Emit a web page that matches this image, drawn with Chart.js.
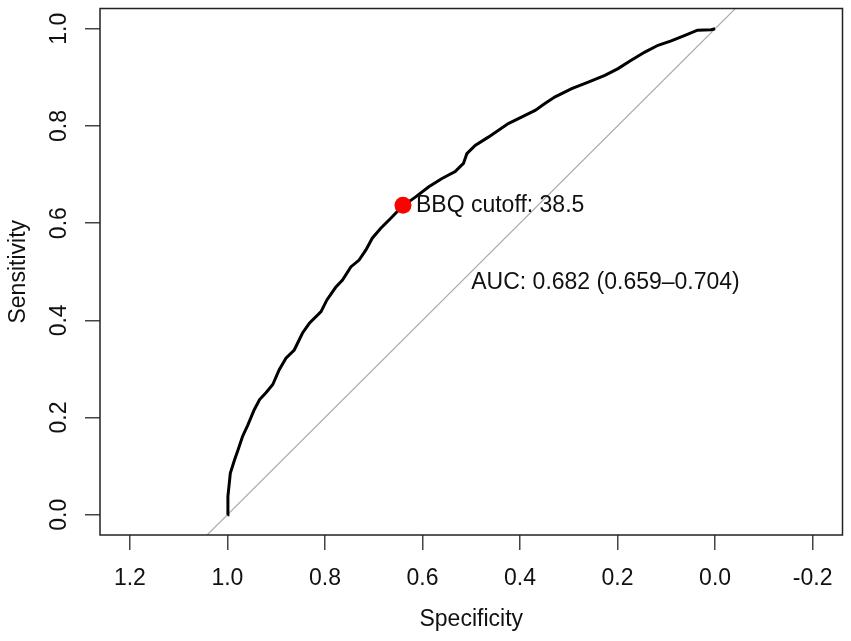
<!DOCTYPE html>
<html>
<head>
<meta charset="utf-8">
<title>ROC curve - BBQ</title>
<script src="https://cdn.jsdelivr.net/npm/chart.js@4.4.1/dist/chart.umd.min.js"></script>
<style>
  html, body { margin: 0; padding: 0; background: #fff; }
  #wrap { width: 851px; height: 641px; }
</style>
</head>
<body>
<div id="wrap"><canvas id="roc"></canvas></div>
<script>
// ROC curve (specificity runs 1 -> 0)
const specificity = [1.000, 0.999, 0.994, 0.985, 0.979, 0.969, 0.958, 0.945, 0.934, 0.921,
                     0.907, 0.894, 0.880, 0.863, 0.846, 0.832, 0.808, 0.796, 0.778, 0.764,
                     0.747, 0.730, 0.716, 0.703, 0.686, 0.665, 0.642, 0.614, 0.587, 0.560,
                     0.533, 0.516, 0.509, 0.492, 0.465, 0.424, 0.397, 0.369, 0.349, 0.328,
                     0.294, 0.260, 0.226, 0.199, 0.172, 0.144, 0.117, 0.090, 0.063, 0.036,
                     0.008, 0.000];
const sensitivity = [0.000, 0.038, 0.086, 0.114, 0.131, 0.161, 0.185, 0.216, 0.237, 0.251,
                     0.268, 0.298, 0.322, 0.339, 0.374, 0.394, 0.418, 0.442, 0.468, 0.483,
                     0.510, 0.524, 0.545, 0.569, 0.589, 0.610, 0.634, 0.654, 0.675, 0.692,
                     0.706, 0.723, 0.743, 0.760, 0.777, 0.805, 0.818, 0.832, 0.846, 0.860,
                     0.877, 0.890, 0.904, 0.918, 0.935, 0.952, 0.966, 0.975, 0.986, 0.997,
                     0.998, 1.000];

// best cutoff point
const cutoffSpec = [0.640];
const cutoffSens = [0.637];
const cutoffLabel = 'BBQ cutoff: 38.5';

// AUC note, anchored at its left end
const aucLabel = 'AUC: 0.682 (0.659\u20130.704)';
const aucAt = [0.5, 0.477];

// chance line (sensitivity = 1 - specificity), clipped by the plot box
const chanceSpec = [1.1, -0.1];
const chanceSens = [-0.1, 1.1];

const xTicks = [1.2, 1.0, 0.8, 0.6, 0.4, 0.2, 0.0, -0.2];
const yTicks = [0.0, 0.2, 0.4, 0.6, 0.8, 1.0];

const FONT = '"Liberation Sans", Arial, Helvetica, sans-serif';

const toPoints = (xs, ys) => xs.map((v, i) => ({ x: v, y: ys[i] }));

// box around the plot and the two text notes
const frameAndNotes = {
    id: 'frameAndNotes',
    afterDatasetsDraw(chart) {
        const { ctx, chartArea: a, scales: { x, y } } = chart;
        ctx.save();
        ctx.strokeStyle = '#222';
        ctx.lineWidth = 1.5;
        ctx.strokeRect(a.left, a.top, a.right - a.left, a.bottom - a.top);

        ctx.fillStyle = '#111';
        ctx.font = '23px ' + FONT;
        ctx.textAlign = 'left';
        ctx.textBaseline = 'middle';
        ctx.fillText(cutoffLabel, x.getPixelForValue(cutoffSpec[0]) + 13, y.getPixelForValue(cutoffSens[0]));
        ctx.fillText(aucLabel, x.getPixelForValue(aucAt[0]), y.getPixelForValue(aucAt[1]));
        ctx.restore();
    }
};

const tickGrid = {
    display: true,
    drawOnChartArea: false,
    drawTicks: true,
    tickLength: 15,
    color: '#444',
    lineWidth: 1.5
};

new Chart(document.getElementById('roc'), {
    type: 'scatter',
    data: {
        datasets: [
            {
                label: 'cutoff',
                data: toPoints(cutoffSpec, cutoffSens),
                pointRadius: 8.5,
                pointBackgroundColor: '#f00',
                pointBorderWidth: 0,
                showLine: false
            },
            {
                label: 'ROC',
                data: toPoints(specificity, sensitivity),
                showLine: true,
                borderColor: '#000',
                borderWidth: 3,
                pointRadius: 0,
                tension: 0
            },
            {
                label: 'chance',
                data: toPoints(chanceSpec, chanceSens),
                showLine: true,
                borderColor: '#aaa',
                borderWidth: 1.2,
                pointRadius: 0
            }
        ]
    },
    options: {
        responsive: true,
        maintainAspectRatio: false,
        animation: false,
        layout: { padding: { top: 8, right: 7, left: 0, bottom: 0 } },
        plugins: {
            legend: { display: false },
            tooltip: { enabled: false }
        },
        scales: {
            x: {
                type: 'linear',
                reverse: true,
                min: -0.2613,
                max: 1.2613,
                afterBuildTicks: axis => { axis.ticks = xTicks.map(v => ({ value: v })); },
                afterFit: axis => {
                    axis.height = 106;
                    axis.paddingLeft = 0;
                    axis.paddingRight = 0;
                },
                grid: tickGrid,
                border: { display: false },
                ticks: {
                    autoSkip: false,
                    maxRotation: 0,
                    padding: 15,
                    color: '#111',
                    font: { family: FONT, size: 23 },
                    callback: v => v.toFixed(1)
                },
                title: {
                    display: true,
                    text: 'Specificity',
                    color: '#111',
                    font: { family: FONT, size: 23 },
                    padding: { top: 0, bottom: 8 }
                }
            },
            y: {
                type: 'linear',
                min: -0.0417,
                max: 1.0417,
                afterBuildTicks: axis => { axis.ticks = yTicks.map(v => ({ value: v })); },
                afterFit: axis => {
                    axis.width = 100;
                    axis.paddingTop = 0;
                    axis.paddingBottom = 0;
                },
                grid: tickGrid,
                border: { display: false },
                ticks: {
                    autoSkip: false,
                    minRotation: 90,
                    maxRotation: 90,
                    crossAlign: 'center',
                    padding: 9,
                    color: '#111',
                    font: { family: FONT, size: 23 },
                    callback: v => v.toFixed(1)
                },
                title: {
                    display: true,
                    text: 'Sensitivity',
                    color: '#111',
                    font: { family: FONT, size: 23 },
                    padding: { top: 5, bottom: 0 }
                }
            }
        }
    },
    plugins: [frameAndNotes]
});
</script>
</body>
</html>
